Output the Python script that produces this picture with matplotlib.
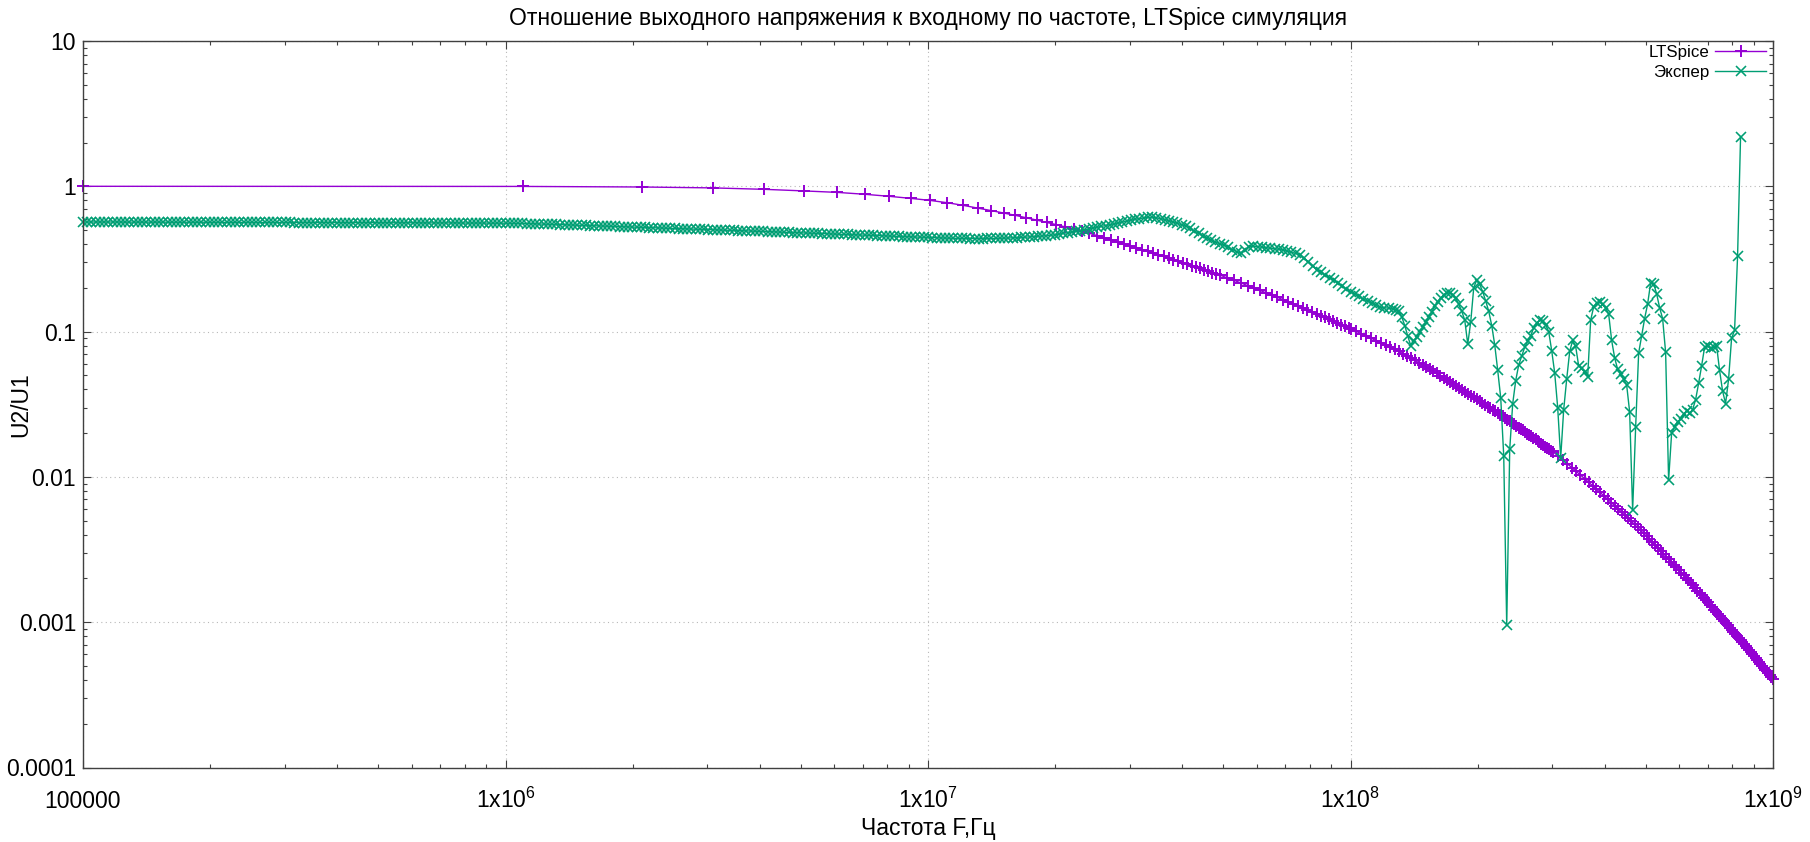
import numpy as np
import matplotlib
matplotlib.use('Agg')
from matplotlib import pyplot as plt
from matplotlib import ticker

plt.rcParams['font.family'] = ['Liberation Sans', 'DejaVu Sans']
plt.rcParams['mathtext.fontset'] = 'custom'
plt.rcParams['mathtext.rm'] = 'Liberation Sans'
plt.rcParams['mathtext.it'] = 'Liberation Sans:italic'

# ________________________________________________________________________
# LTSpice: linear sweep 0.1 MHz + k*1 MHz (thinned at high f)

f_lt = np.concatenate([np.arange(0.1e6, 50e6, 1e6),
                       np.arange(51.1e6, 100e6, 2e6),
                       np.arange(100.1e6, 300e6, 3e6),
                       np.arange(302.1e6, 1000e6, 8e6)])

u_lt = [
    1.000, 0.998, 0.989, 0.975, 0.953, 0.929, 0.908, 0.881, 0.853, 0.826,
    0.800, 0.771, 0.740, 0.708, 0.681, 0.655, 0.631, 0.607, 0.585, 0.564,
    0.545, 0.526, 0.508, 0.491, 0.475, 0.458, 0.443, 0.428, 0.414, 0.401,
    0.389, 0.378, 0.366, 0.356, 0.347, 0.337, 0.329, 0.320, 0.312, 0.305,
    0.297, 0.290, 0.284, 0.278, 0.272, 0.266, 0.261, 0.255, 0.250, 0.245,
    # 51.1 .. 99.1 MHz
    0.234, 0.225, 0.216, 0.207, 0.1995, 0.192, 0.185, 0.1784, 0.1722, 0.1663,
    0.1608, 0.1555, 0.1505, 0.1457, 0.1412, 0.1369, 0.1328, 0.1289, 0.1252, 0.1216,
    0.1182, 0.1149, 0.1118, 0.1088, 0.1059,
    # 100.1 .. 298.1 MHz
    0.1045, 0.1005, 0.0967, 0.0932, 0.0898, 0.0867, 0.0837, 0.0808, 0.0781, 0.0755,
    0.0731, 0.0705, 0.0680, 0.0657, 0.0633, 0.0611, 0.0590, 0.0570, 0.0551, 0.0533,
    0.0515, 0.0498, 0.0482, 0.0466, 0.0452, 0.0437, 0.0423, 0.0410, 0.0398, 0.0385,
    0.0374, 0.0362, 0.0352, 0.0341, 0.0331, 0.0322, 0.0314, 0.0305, 0.0297, 0.0289,
    0.0282, 0.0274, 0.0268, 0.0261, 0.0255, 0.0248, 0.0241, 0.0236, 0.0230, 0.0224,
    0.0218, 0.0214, 0.0209, 0.0203, 0.0198, 0.0194, 0.0190, 0.0185, 0.0181, 0.0177,
    0.0173, 0.0169, 0.0165, 0.0161, 0.0158, 0.0155, 0.0151,
    # 302.1 .. 998.1 MHz
    0.01482, 0.01391, 0.01308, 0.01230, 0.01159, 0.01093, 0.01031, 0.00974, 0.00920, 0.00870,
    0.00824, 0.00781, 0.00740, 0.00702, 0.00666, 0.00633, 0.00603, 0.00572, 0.00544, 0.00518,
    0.00495, 0.00471, 0.00449, 0.00429, 0.00409, 0.00391, 0.00373, 0.00356, 0.00340, 0.00325,
    0.00310, 0.00297, 0.00283, 0.00271, 0.00260, 0.00249, 0.00238, 0.00228, 0.00219, 0.00210,
    0.00202, 0.00194, 0.00186, 0.00179, 0.00171, 0.00165, 0.00159, 0.00153, 0.00147, 0.00142,
    0.00137, 0.00131, 0.00127, 0.00122, 0.00117, 0.00113, 0.00110, 0.00106, 0.00102, 0.000985,
    0.000951, 0.000919, 0.000889, 0.000859, 0.000830, 0.000804, 0.000778, 0.000752, 0.000728, 0.000705,
    0.000683, 0.000662, 0.000641, 0.000621, 0.000601, 0.000584, 0.000566, 0.000548, 0.000532, 0.000516,
    0.000501, 0.000486, 0.000472, 0.000458, 0.000444, 0.000432, 0.000419, 0.000407,
]

# ________________________________________________________________________
# Эксперимент: log sweep, 100 pts/decade to 126 MHz, then finer

f_exp = np.concatenate([np.geomspace(1e5, 1.26e8, 311),
                        np.geomspace(1.28e8, 8.38e8, 116)])

u_exp = [
    0.568, 0.568, 0.568, 0.568, 0.568, 0.568, 0.568, 0.568, 0.568, 0.568,
    0.567, 0.567, 0.567, 0.567, 0.567, 0.567, 0.567, 0.567, 0.567, 0.567,
    0.566, 0.566, 0.566, 0.566, 0.566, 0.566, 0.566, 0.566, 0.566, 0.566,
    0.565, 0.565, 0.565, 0.565, 0.565, 0.565, 0.565, 0.565, 0.565, 0.565,
    0.564, 0.564, 0.564, 0.564, 0.564, 0.564, 0.564, 0.564, 0.564, 0.564,
    0.563, 0.563, 0.563, 0.563, 0.563, 0.563, 0.563, 0.563, 0.563, 0.563,
    0.562, 0.562, 0.562, 0.562, 0.562, 0.562, 0.562, 0.562, 0.562, 0.562,
    0.561, 0.561, 0.561, 0.561, 0.561, 0.561, 0.561, 0.561, 0.561, 0.561,
    0.560, 0.560, 0.560, 0.560, 0.560, 0.560, 0.560, 0.560, 0.560, 0.560,
    0.559, 0.559, 0.559, 0.559, 0.559, 0.559, 0.558, 0.558, 0.558, 0.558,
    0.5575, 0.5570, 0.5565, 0.5560, 0.5553, 0.5541, 0.5530, 0.5518, 0.5506, 0.5494,
    0.5483, 0.5471, 0.5459, 0.5447, 0.5436, 0.5424, 0.5412, 0.5401, 0.5389, 0.5377,
    0.5365, 0.5354, 0.5342, 0.5330, 0.5318, 0.5307, 0.5295, 0.5283, 0.5271, 0.5260,
    0.5248, 0.5236, 0.5224, 0.5213, 0.5201, 0.5189, 0.5178, 0.5166, 0.5154, 0.5142,
    0.5131, 0.5119, 0.5107, 0.5095, 0.5084, 0.5072, 0.5060, 0.5049, 0.5037, 0.5026,
    0.5014, 0.5003, 0.4991, 0.4980, 0.4969, 0.4957, 0.4946, 0.4934, 0.4923, 0.4911,
    0.4900, 0.4888, 0.4877, 0.4866, 0.4854, 0.4843, 0.4831, 0.4820, 0.4808, 0.4797,
    0.4786, 0.4774, 0.4763, 0.4751, 0.4740, 0.4729, 0.4717, 0.4706, 0.4694, 0.4683,
    0.4672, 0.4660, 0.4649, 0.4637, 0.4626, 0.4615, 0.4603, 0.4592, 0.4581, 0.4569,
    0.4558, 0.4546, 0.4535, 0.4524, 0.4512, 0.4501, 0.4490, 0.4478, 0.4467, 0.4455,
    0.4444, 0.4432, 0.4422, 0.4413, 0.4404, 0.4396, 0.4389, 0.4383, 0.4378, 0.4374,
    0.4371, 0.4370, 0.4370, 0.4372, 0.4375, 0.4379, 0.4384, 0.4390, 0.4398, 0.4407,
    0.4418, 0.4430, 0.4447, 0.4465, 0.4485, 0.4505, 0.4527, 0.4550, 0.4572, 0.4595,
    0.464, 0.469, 0.474, 0.479, 0.485, 0.490, 0.496, 0.501, 0.509, 0.516,
    0.523, 0.530, 0.537, 0.544, 0.551, 0.558, 0.567, 0.576, 0.585, 0.593,
    0.600, 0.606, 0.610, 0.611, 0.607, 0.599, 0.590, 0.580, 0.568, 0.556,
    0.545, 0.533, 0.513, 0.494, 0.475, 0.456, 0.438, 0.424, 0.413, 0.403,
    0.393, 0.380, 0.367, 0.355, 0.348, 0.365, 0.385, 0.387, 0.384, 0.381,
    0.378, 0.375, 0.372, 0.369, 0.365, 0.359, 0.352, 0.345, 0.337, 0.320,
    0.302, 0.284, 0.266, 0.256, 0.245, 0.235, 0.226, 0.216, 0.206, 0.196,
    0.187, 0.181, 0.175, 0.168, 0.162, 0.157, 0.152, 0.147, 0.146, 0.145,
    0.144,
    # 128 MHz .. 838 MHz
    0.141, 0.138, 0.126, 0.110, 0.093, 0.080, 0.086, 0.092, 0.099, 0.107,
    0.116, 0.126, 0.137, 0.149, 0.160, 0.170, 0.179, 0.183, 0.185, 0.179,
    0.169, 0.154, 0.138, 0.120, 0.082, 0.117, 0.201, 0.226, 0.211, 0.188,
    0.162, 0.138, 0.110, 0.081, 0.054, 0.035, 0.014, 0.00095, 0.0155, 0.032,
    0.046, 0.059, 0.068, 0.078, 0.086, 0.094, 0.106, 0.114, 0.120, 0.119,
    0.111, 0.100, 0.074, 0.052, 0.030, 0.0135, 0.029, 0.047, 0.073, 0.087,
    0.079, 0.058, 0.056, 0.053, 0.049, 0.120, 0.148, 0.158, 0.160, 0.155,
    0.145, 0.132, 0.087, 0.066, 0.055, 0.051, 0.047, 0.043, 0.028, 0.0059,
    0.022, 0.071, 0.093, 0.123, 0.155, 0.216, 0.214, 0.182, 0.146, 0.123,
    0.072, 0.0095, 0.020, 0.022, 0.024, 0.025, 0.027, 0.0285, 0.0275, 0.029,
    0.034, 0.044, 0.058, 0.078, 0.079, 0.077, 0.078, 0.080, 0.054, 0.039,
    0.032, 0.047, 0.090, 0.102, 0.33, 2.2,
]

xt_pos = [1e5, 1e6, 1e7, 1e8, 1e9]
xt_lab = ['100000', '1x10$^{6}$', '1x10$^{7}$', '1x10$^{8}$', '1x10$^{9}$']
yt_pos = [1e-4, 1e-3, 1e-2, 1e-1, 1, 10]
yt_lab = ['0.0001', '0.001', '0.01', '0.1', '1', '10']

title = 'Отношение выходного напряжения к входному по частоте, LTSpice симуляция'

# ________________________________________________________________________

W, H = 1810, 842
fig = plt.figure(figsize=(W/100, H/100), dpi=100)
ax = fig.add_axes([83/W, 1-767.5/H, 1690/W, 726.5/H])

ax.plot(f_lt, u_lt, color='#9400d3', lw=1.0, marker='+', ms=8.5, mew=1.4,
        label='LTSpice', clip_on=False)
ax.plot(f_exp, u_exp, color='#009e73', lw=1.0, marker='x', ms=7.5, mew=1.15,
        label='Экспер', clip_on=False)

ax.set_xscale('log')
ax.set_yscale('log')
ax.set_xlim(1e5, 1e9)
ax.set_ylim(1e-4, 10)

ax.set_xticks(xt_pos, xt_lab)
ax.set_yticks(yt_pos, yt_lab)
for a in (ax.xaxis, ax.yaxis):
    a.set_minor_locator(ticker.LogLocator(base=10, subs=np.arange(2, 10), numticks=30))
    a.set_minor_formatter(ticker.NullFormatter())

ax.tick_params(which='both', direction='in', top=True, right=True,
               color='#404040', width=0.8)
ax.tick_params(which='major', length=6, labelsize=16.5)
ax.tick_params(which='minor', length=3)
ax.tick_params(axis='y', pad=5)
ax.tick_params(axis='x', pad=29)
for t in ax.get_xticklabels():
    t.set_va('baseline')

for s in ax.spines.values():
    s.set_color('#404040')
    s.set_linewidth(1.0)

ax.grid(which='major', color='#b8b8b8', ls=(0, (1, 3)), lw=0.8)

ax.set_xlabel('Частота F,Гц', fontsize=16.5)
ax.set_ylabel('U2/U1', fontsize=16.5)
ax.xaxis.set_label_coords(0.5, (767.5-828)/726.5)
ax.yaxis.set_label_coords((21-83)/1690, 0.5)
ax.xaxis.label.set_va('center')
ax.yaxis.label.set_va('center')

fig.text(928/W, 1-18/H, title, ha='center', va='center', fontsize=16.5)

ax.legend(loc='upper right', bbox_to_anchor=((1766-83)/1690, 1-(45-41)/726.5),
          frameon=False, markerfirst=False, fontsize=12.2, handlelength=3.0,
          handletextpad=0.35, labelspacing=0.3, borderaxespad=0, borderpad=0,
          numpoints=1)

fig.savefig('out.png', dpi=100, facecolor='white')
